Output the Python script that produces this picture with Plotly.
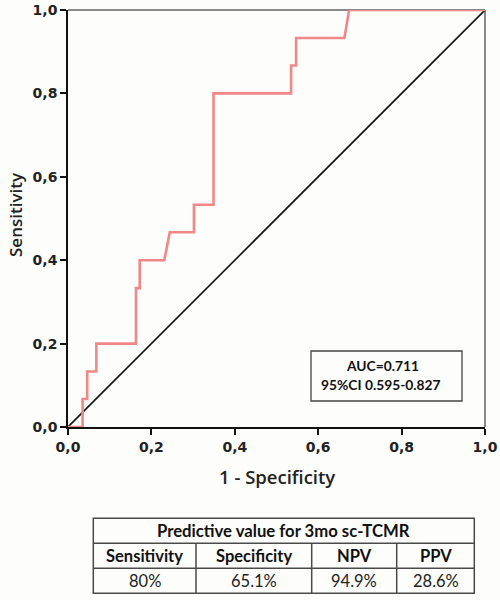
import plotly.graph_objects as go

# ROC curve points (1 - specificity, sensitivity)
fpr = [0, 0.035, 0.035, 0.046, 0.046, 0.068, 0.068, 0.163, 0.163, 0.172, 0.172,
       0.231, 0.244, 0.302, 0.302, 0.349, 0.349, 0.535, 0.535, 0.547, 0.547,
       0.663, 0.674, 1.0]
tpr = [0, 0, 0.067, 0.067, 0.133, 0.133, 0.2, 0.2, 0.333, 0.333, 0.4,
       0.4, 0.467, 0.467, 0.533, 0.533, 0.8, 0.8, 0.867, 0.867, 0.933,
       0.933, 1.0, 1.0]

ref_x = [0, 1]
ref_y = [0, 1]

tick_vals = [0, 0.2, 0.4, 0.6, 0.8, 1.0]
tick_text = ["0,0", "0,2", "0,4", "0,6", "0,8", "1,0"]

x_title = "1 - Specificity"
y_title = "Sensitivity"

auc_text = ["AUC=0.711", "95%CI 0.595-0.827"]

table_title = "Predictive value for 3mo sc-TCMR"
table_cols = ["Sensitivity", "Specificity", "NPV", "PPV"]
table_vals = ["80%", "65.1%", "94.9%", "28.6%"]

# ---- layout geometry (pixels) ----
W, H = 500, 600
ML, MR, MT, MB = 68, 15, 10, 173
PW = W - ML - MR
PH = H - MT - MB


def px_x(px):
    return (px - ML) / PW


def px_y(py):
    return (H - MB - py) / PH


BG = "#fdfdfb"
fig = go.Figure()

fig.add_trace(go.Scatter(x=ref_x, y=ref_y, mode="lines",
                         line=dict(color="#111111", width=1.6),
                         hoverinfo="skip", showlegend=False, cliponaxis=False))
fig.add_trace(go.Scatter(x=fpr, y=tpr, mode="lines",
                         line=dict(color="#f28787", width=2.6),
                         showlegend=False, cliponaxis=False))

shapes = [
    dict(type="line", xref="x domain", yref="y domain", x0=0, x1=1, y0=1, y1=1,
         line=dict(color="#8a8a8a", width=2), layer="below"),
    dict(type="line", xref="x domain", yref="y domain", x0=1, x1=1, y0=0, y1=1,
         line=dict(color="#8a8a8a", width=2), layer="below"),
    # AUC box
    dict(type="rect", xref="paper", yref="paper",
         x0=px_x(311), x1=px_x(462), y0=px_y(401), y1=px_y(351),
         line=dict(color="#444444", width=1.3), fillcolor=BG, layer="above"),
]
auc_font = dict(family="Lato", size=13.8, color="#111111", weight="bold")
annotations = [
    dict(xref="paper", yref="paper", x=px_x(382), y=px_y(365.5),
         text=auc_text[0], showarrow=False,
         xanchor="center", yanchor="middle", font=auc_font),
    dict(xref="paper", yref="paper", x=px_x(381), y=px_y(384),
         text=auc_text[1], showarrow=False,
         xanchor="center", yanchor="middle", font=auc_font),
    dict(xref="paper", yref="paper", x=px_x(276.5), y=px_y(477),
         text=x_title, showarrow=False, xanchor="center", yanchor="middle",
         font=dict(family="Open Sans", size=18.5, color="#222222", weight=600)),
    dict(xref="paper", yref="paper", x=px_x(15), y=px_y(215),
         text=y_title, showarrow=False, xanchor="center", yanchor="middle",
         textangle=-90,
         font=dict(family="Open Sans", size=17, color="#222222", weight=600)),
]

# ---- table (drawn with shapes + annotations) ----
tx0, tx1 = 93.3, 474.3
row_edges = [518.3, 543.3, 568.3, 593.3]
col_px = [102.7, 115.7, 85.0, 77.6]
col_edges = [tx0]
for w in col_px:
    col_edges.append(col_edges[-1] + w)
col_edges[-1] = tx1
tline = dict(color="#4a4a4a", width=1.5)

shapes.append(dict(type="rect", xref="paper", yref="paper",
                   x0=px_x(tx0), x1=px_x(tx1), y0=px_y(row_edges[3]), y1=px_y(row_edges[0]),
                   line=tline, fillcolor="rgba(0,0,0,0)"))
for ry in row_edges[1:3]:
    shapes.append(dict(type="line", xref="paper", yref="paper",
                       x0=px_x(tx0), x1=px_x(tx1), y0=px_y(ry), y1=px_y(ry), line=tline))
for cx in col_edges[1:-1]:
    shapes.append(dict(type="line", xref="paper", yref="paper",
                       x0=px_x(cx), x1=px_x(cx), y0=px_y(row_edges[1]), y1=px_y(row_edges[3]),
                       line=tline))

tfont_t = dict(family="Lato", size=16.7, color="#111111", weight="bold")
tfont_b = dict(family="Lato", size=16.5, color="#111111", weight="bold")
tfont = dict(family="Lato", size=16.5, color="#222222")
annotations.append(dict(xref="paper", yref="paper",
                        x=px_x((tx0 + tx1) / 2), y=px_y((row_edges[0] + row_edges[1]) / 2),
                        text=table_title, showarrow=False,
                        xanchor="center", yanchor="middle", font=tfont_t))
for i, (c, v) in enumerate(zip(table_cols, table_vals)):
    cxm = (col_edges[i] + col_edges[i + 1]) / 2
    annotations.append(dict(xref="paper", yref="paper", x=px_x(cxm),
                            y=px_y((row_edges[1] + row_edges[2]) / 2),
                            text=c, showarrow=False, xanchor="center", yanchor="middle",
                            font=tfont_b))
    annotations.append(dict(xref="paper", yref="paper", x=px_x(cxm),
                            y=px_y((row_edges[2] + row_edges[3]) / 2),
                            text=v, showarrow=False, xanchor="center", yanchor="middle",
                            font=tfont))

axis_common = dict(
    range=[0, 1], showgrid=False, zeroline=False, automargin=False,
    showline=True, linecolor="#111111", linewidth=1.6,
    ticks="outside", ticklen=6, tickcolor="#111111", tickwidth=1.5,
    tickvals=tick_vals, ticktext=tick_text,
    tickfont=dict(family="DejaVu Sans", size=14, color="#222222", weight="bold"),
    fixedrange=True,
)

fig.update_layout(
    width=W, height=H,
    margin=dict(l=ML, r=MR, t=MT, b=MB),
    paper_bgcolor=BG, plot_bgcolor=BG,
    xaxis=axis_common,
    yaxis=axis_common,
    shapes=shapes,
    annotations=annotations,
)

fig.write_html("out.html", config={"displayModeBar": False},
               post_script="document.body.style.margin='0';")
